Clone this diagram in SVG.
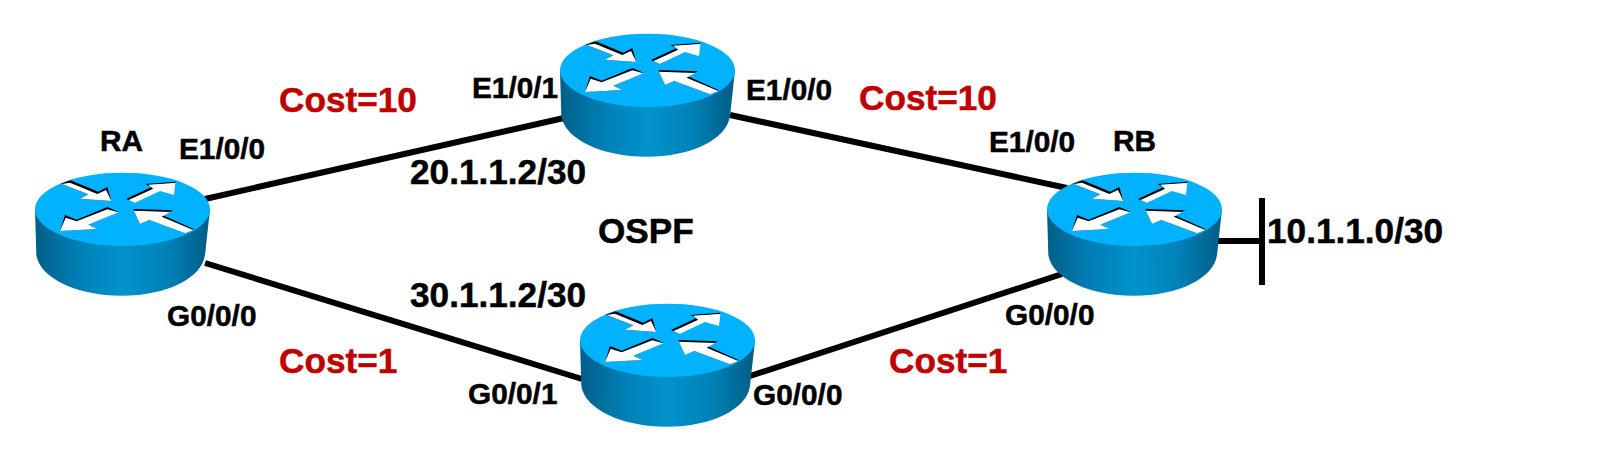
<svg xmlns="http://www.w3.org/2000/svg" xmlns:xlink="http://www.w3.org/1999/xlink" width="1618" height="472" viewBox="0 0 1618 472">
  <style>
    text { font-family: "Liberation Sans", Arial, sans-serif; font-weight: 700; fill: #000; stroke: #000; stroke-width: 0.5px; }
    .port { font-size: 29.8px; }
    .addr { font-size: 35.2px; }
    .cost { font-size: 35.2px; fill: #c00000; stroke: #c00000; }
    .link { stroke: #000; stroke-width: 6; fill: none; }
    .bar { stroke: #000; stroke-width: 6; fill: none; }
    .lid { fill: #00b2ff; }
    .shadow { fill: #000; }
    .arrow { fill: #fff; }
  </style>
  <defs>
    <linearGradient id="wall" x1="0" x2="1" y1="0" y2="0">
      <stop offset="0" stop-color="#005f88"/>
      <stop offset="0.25" stop-color="#007fb5"/>
      <stop offset="0.5" stop-color="#0092cc"/>
      <stop offset="0.75" stop-color="#0082b8"/>
      <stop offset="1" stop-color="#005c85"/>
    </linearGradient>
    <!-- Router drawn at 3x, origin 45 units left of its body edge -->
    <g id="router" transform="scale(0.33333)">
      <path d="M45,178 L49,315 C60,385 170,437 305,437 C440,437 545,385 555,315 L570,178 Z" fill="url(#wall)"/>
      <ellipse class="lid" cx="307.500" cy="178" rx="262.500" ry="110"/>
      <polygon class="shadow" points="122,101 152,91 235,125 262,111 274,153 180,146 205,133"/>
      <polygon class="arrow" points="125,102 150,98 232,132 258,120 274,153 180,146 205,133"/>
      <polygon class="shadow" points="318,147 393,112 376,102 466,95 466,99 385,105 400,117 326,151"/>
      <polygon class="arrow" points="326,150 400,116 385,104 466,99 462,135 420,123 345,158"/>
      <polygon class="shadow" points="295,185 262,171 170,209 135,195 120,243 232,237 205,224"/>
      <polygon class="arrow" points="295,187 262,178 170,214 137,203 120,243 232,237 205,224"/>
      <polygon class="shadow" points="340,177 460,181 427,195 522,238 495,250 388,210 360,222"/>
      <polygon class="arrow" points="342,182 450,186 425,200 520,240 495,250 388,210 360,222"/>
    </g>
  </defs>

  <g id="connectors">
    <line class="link" x1="205" y1="199" x2="564" y2="118"/>
    <line class="link" x1="730" y1="115" x2="1067" y2="188"/>
    <line class="link" x1="205" y1="263" x2="582" y2="379"/>
    <line class="link" x1="750" y1="376" x2="1062" y2="274"/>
    <line class="link" x1="1218" y1="241" x2="1262" y2="241"/>
    <line class="bar" x1="1262" y1="198" x2="1262" y2="285"/>
  </g>

  <g id="ra">
    <use xlink:href="#router" href="#router" transform="translate(20,150)"/>
    <text x="100" y="151" class="port">RA</text>
    <text x="179" y="159" class="port">E1/0/0</text>
    <text x="167" y="326" class="port">G0/0/0</text>
  </g>
  <g id="rt-top">
    <use xlink:href="#router" href="#router" transform="translate(545,11)"/>
    <text x="472" y="98" class="port">E1/0/1</text>
    <text x="746" y="100" class="port">E1/0/0</text>
    <text x="410" y="184" class="addr">20.1.1.2/30</text>
  </g>
  <g id="rt-bottom">
    <use xlink:href="#router" href="#router" transform="translate(565,281)"/>
    <text x="468" y="404" class="port">G0/0/1</text>
    <text x="753" y="405" class="port">G0/0/0</text>
    <text x="410" y="307" class="addr">30.1.1.2/30</text>
  </g>
  <g id="rb">
    <use xlink:href="#router" href="#router" transform="translate(1032,150)"/>
    <text x="1113" y="151" class="port">RB</text>
    <text x="989" y="152" class="port">E1/0/0</text>
    <text x="1005" y="325" class="port">G0/0/0</text>
    <text x="1267" y="243" class="addr">10.1.1.0/30</text>
  </g>

  <g id="labels">
    <text x="598" y="243" class="addr">OSPF</text>
    <text x="279" y="112" class="cost">Cost=10</text>
    <text x="859" y="110" class="cost">Cost=10</text>
    <text x="279" y="373" class="cost">Cost=1</text>
    <text x="889" y="373" class="cost">Cost=1</text>
  </g>
</svg>
